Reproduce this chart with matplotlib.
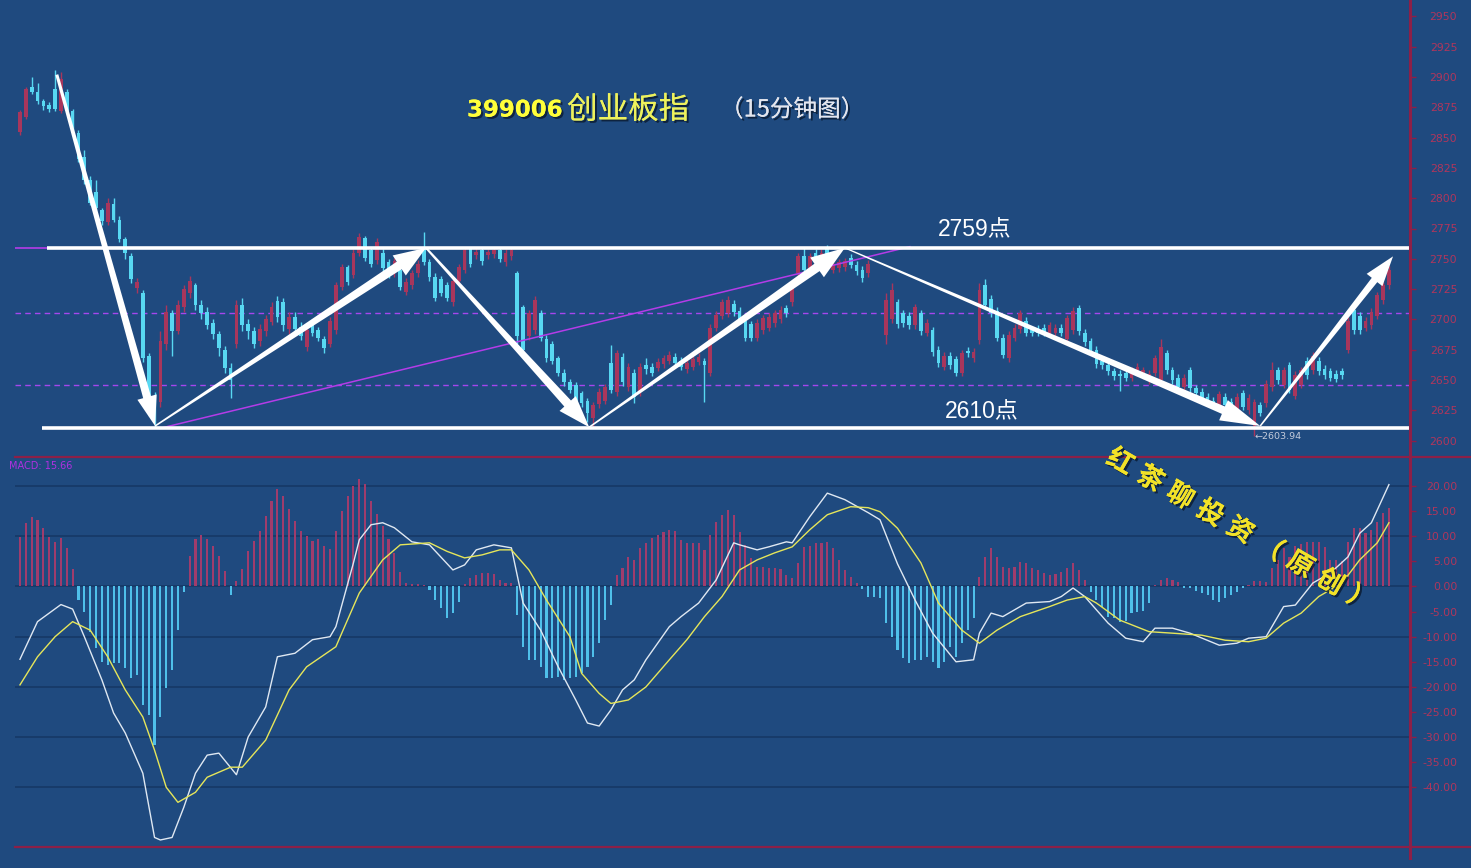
import numpy as np
import matplotlib
matplotlib.use("Agg")
import matplotlib.pyplot as plt
import matplotlib.patheffects as pe
from matplotlib.lines import Line2D
from matplotlib.patches import Polygon

plt.rcParams['font.family'] = ['Noto Sans CJK SC', 'DejaVu Sans']
plt.rcParams['axes.unicode_minus'] = False

nan = float('nan')

# ---------------- data ----------------
opens = [
    2855, 2867, 2892, 2888, 2880, 2877, 2890, 2872, 2888, 2872,
    2854, 2834, 2815, 2805, 2790, 2780, 2795, 2782, 2766, 2752,
    2726, 2722, 2670, 2628, 2632, 2680, 2705, 2690, 2710, 2722,
    2728, 2712, 2706, 2697, 2688, 2675, 2660, 2680, 2712, 2696,
    2690, 2682, 2690, 2698, 2715, 2714, 2692, 2702, 2694, 2677,
    2697, 2691, 2684, 2680, 2691, 2727, 2743, 2737, 2755, 2767,
    2757, 2749, 2755, 2747, 2738, 2741, 2723, 2728, 2738, 2760,
    2747, 2735, 2733, 2728, 2714, 2732, 2741, 2758, 2753, 2757,
    2753, 2754, 2757, 2747, 2752, 2738, 2710, 2686, 2691, 2705,
    2684, 2680, 2668, 2656, 2648, 2646, 2639, 2633, 2619, 2630,
    2633, 2664, 2640, 2669, 2644, 2656, 2640, 2662, 2661, 2660,
    2663, 2666, 2669, 2666, 2659, 2661, 2665, 2666, 2656, 2693,
    2703, 2705, 2713, 2707, 2699, 2696, 2685, 2691, 2693, 2697,
    2700, 2709, 2714, 2738, 2752, 2742, 2755, 2748, 2758, 2741,
    2742, 2743, 2751, 2745, 2741, 2738, nan, nan, 2687, 2700,
    2714, 2705, 2703, 2695, 2705, 2689, 2691, 2675, 2661, 2670,
    2667, 2656, 2674, 2668, 2683, 2728, 2717, 2707, 2685, 2668,
    2685, 2692, 2699, 2691, 2692, 2693, 2689, 2689, 2693, 2684,
    2691, 2709, 2689, 2682, 2675, 2666, 2662, 2657, 2655, 2656,
    2652, 2656, 2654, 2650, 2656, 2650, 2672, 2658, 2652, 2644,
    2658, 2643, 2640, 2636, 2633, 2628, 2636, 2632, 2624, 2639,
    2625, 2612, 2629, 2631, 2644, 2658, 2646, 2662, 2637, 2646,
    2666, 2658, 2666, 2659, 2657, 2655, 2657, 2675, 2708, 2703,
    2693, 2695, 2703, 2716, 2728,
]
closes = [
    2871, 2890, 2888, 2880, 2876, 2874, 2874, 2898, 2872, 2854,
    2832, 2815, 2796, 2792, 2781, 2796, 2782, 2766, 2755, 2733,
    2731, 2668, 2625, 2615, 2682, 2706, 2690, 2712, 2725, 2732,
    2712, 2705, 2695, 2688, 2676, 2660, 2650, 2712, 2695, 2690,
    2680, 2692, 2700, 2710, 2702, 2695, 2702, 2692, 2686, 2691,
    2689, 2685, 2676, 2699, 2728, 2743, 2731, 2755, 2768, 2751,
    2746, 2764, 2742, 2737, 2748, 2727, 2731, 2738, 2746, 2747,
    2735, 2718, 2722, 2718, 2732, 2743, 2757, 2746, 2756, 2748,
    2756, 2757, 2750, 2755, 2757, 2686, 2675, 2705, 2716, 2685,
    2668, 2666, 2656, 2648, 2642, 2632, 2631, 2623, 2629, 2640,
    2644, 2642, 2672, 2648, 2661, 2636, 2661, 2659, 2656, 2665,
    2668, 2671, 2664, 2661, 2664, 2667, 2669, 2662, 2693, 2704,
    2714, 2716, 2706, 2699, 2685, 2685, 2697, 2701, 2702, 2705,
    2708, 2705, 2726, 2752, 2741, 2752, 2748, 2755, 2752, 2746,
    2747, 2748, 2745, 2740, 2734, 2746, nan, nan, 2716, 2724,
    2696, 2697, 2695, 2710, 2690, 2697, 2673, 2664, 2670, 2662,
    2656, 2672, 2672, 2673, 2724, 2712, 2705, 2685, 2671, 2687,
    2693, 2705, 2689, 2689, 2689, 2689, 2695, 2693, 2689, 2701,
    2707, 2690, 2681, 2675, 2663, 2662, 2657, 2653, 2653, 2652,
    2658, 2661, 2658, 2655, 2668, 2677, 2658, 2650, 2644, 2652,
    2643, 2639, 2635, 2633, 2631, 2638, 2629, 2628, 2636, 2628,
    2635, 2632, 2623, 2647, 2658, 2650, 2658, 2642, 2654, 2658,
    2654, 2670, 2657, 2654, 2652, 2651, 2654, 2699, 2691, 2691,
    2699, 2706, 2720, 2728, 2741,
]
highs = [
    2873, 2892, 2900, 2895, 2882, 2879, 2906, 2904, 2890, 2874,
    2856, 2840, 2818, 2815, 2792, 2800, 2800, 2785, 2768, 2755,
    2734, 2724, 2672, 2640, 2690, 2712, 2708, 2716, 2728, 2736,
    2730, 2716, 2710, 2700, 2690, 2678, 2664, 2716, 2718, 2700,
    2694, 2696, 2704, 2714, 2719, 2718, 2706, 2706, 2698, 2695,
    2700, 2694, 2686, 2702, 2731, 2746, 2745, 2758, 2771, 2769,
    2759, 2767, 2758, 2750, 2751, 2744, 2734, 2741, 2749, 2772,
    2750, 2738, 2736, 2731, 2735, 2746, 2760, 2760, 2759, 2759,
    2758, 2760, 2759, 2758, 2759, 2740, 2712, 2708, 2719, 2708,
    2687, 2682, 2670, 2659, 2651, 2648, 2641, 2635, 2632, 2643,
    2647, 2679, 2675, 2672, 2664, 2659, 2664, 2668, 2664, 2668,
    2671, 2674, 2672, 2669, 2667, 2670, 2672, 2668, 2696, 2707,
    2717, 2719, 2716, 2710, 2702, 2699, 2700, 2704, 2705, 2708,
    2711, 2712, 2729, 2755, 2760, 2755, 2758, 2758, 2761, 2749,
    2750, 2751, 2754, 2748, 2744, 2749, nan, nan, 2722, 2730,
    2717, 2708, 2706, 2713, 2708, 2700, 2694, 2678, 2673, 2673,
    2670, 2675, 2677, 2676, 2730, 2733, 2720, 2710, 2688, 2690,
    2696, 2708, 2702, 2694, 2695, 2696, 2698, 2696, 2696, 2704,
    2710, 2712, 2692, 2685, 2678, 2669, 2665, 2660, 2658, 2659,
    2661, 2664, 2661, 2658, 2671, 2684, 2675, 2661, 2655, 2655,
    2661, 2646, 2643, 2639, 2636, 2641, 2639, 2635, 2639, 2642,
    2638, 2634, 2632, 2650, 2665, 2661, 2661, 2665, 2657, 2661,
    2669, 2673, 2669, 2662, 2660, 2658, 2660, 2702, 2711, 2706,
    2702, 2709, 2723, 2731, 2744,
]
lows = [
    2852, 2865, 2886, 2878, 2873, 2871, 2872, 2870, 2870, 2852,
    2830, 2812, 2794, 2788, 2778, 2778, 2780, 2764, 2750, 2730,
    2722, 2665, 2620, 2610, 2628, 2675, 2670, 2688, 2706, 2718,
    2708, 2700, 2692, 2684, 2670, 2656, 2635, 2676, 2690, 2684,
    2676, 2678, 2686, 2695, 2698, 2690, 2688, 2688, 2683, 2674,
    2686, 2682, 2672, 2677, 2688, 2724, 2728, 2734, 2752, 2748,
    2743, 2746, 2739, 2734, 2735, 2724, 2720, 2725, 2735, 2745,
    2732, 2715, 2719, 2715, 2711, 2729, 2738, 2743, 2750, 2745,
    2750, 2751, 2747, 2744, 2749, 2680, 2672, 2683, 2688, 2682,
    2665, 2663, 2653, 2645, 2639, 2629, 2628, 2615, 2610, 2627,
    2630, 2639, 2637, 2645, 2641, 2631, 2637, 2655, 2653, 2657,
    2660, 2663, 2661, 2658, 2656, 2658, 2662, 2632, 2653, 2690,
    2700, 2702, 2703, 2696, 2682, 2682, 2682, 2688, 2690, 2694,
    2697, 2702, 2711, 2735, 2738, 2739, 2745, 2745, 2749, 2738,
    2739, 2740, 2742, 2737, 2731, 2735, nan, nan, 2680, 2697,
    2693, 2694, 2692, 2692, 2687, 2686, 2670, 2661, 2658, 2659,
    2653, 2653, 2669, 2665, 2680, 2709, 2702, 2682, 2668, 2665,
    2682, 2689, 2686, 2686, 2686, 2686, 2686, 2686, 2686, 2681,
    2688, 2687, 2678, 2672, 2660, 2659, 2654, 2650, 2641, 2649,
    2649, 2653, 2651, 2647, 2653, 2647, 2655, 2647, 2641, 2641,
    2640, 2636, 2632, 2630, 2628, 2625, 2626, 2625, 2621, 2625,
    2622, 2604, 2620, 2628, 2641, 2647, 2643, 2639, 2634, 2643,
    2651, 2655, 2654, 2651, 2649, 2648, 2651, 2672, 2688, 2688,
    2690, 2692, 2700, 2713, 2725,
]

# MACD histogram, one bar per candle
hist = [
    9.9, 12.6, 13.8, 13.2, 11.6, 9.9, 8.9, 9.6, 7.7, 3.5,
    -2.6, -5.0, -9.0, -12.3, -15.0, -15.7, -15.3, -15.3, -16.2, -18.3,
    -17.6, -23.6, -25.6, -31.6, -26.0, -20.2, -16.6, -8.7, -1.0, 6.0,
    9.5, 10.2, 9.5, 8.0, 6.0, 3.0, -1.7, 1.0, 3.5, 7.0,
    9.0, 11.0, 14.0, 17.0, 19.5, 18.0, 15.5, 13.0, 11.0, 10.0,
    9.0, 9.5, 8.0, 7.5, 11.0, 15.0, 18.0, 20.0, 21.5, 20.5,
    17.0, 14.5, 12.0, 9.5, 6.7, 2.9, 0.7, 0.4, 0.5, 0.3,
    -0.7, -2.7, -4.3, -6.3, -5.3, -3.0, 0.5, 1.7, 2.3, 2.7,
    2.7, 2.5, 1.3, 0.7, 0.7, -5.7, -12.0, -14.6, -14.6, -16.0,
    -18.3, -18.3, -18.0, -18.6, -18.3, -18.0, -17.3, -16.0, -14.0, -11.3,
    -6.7, -3.7, 2.3, 3.7, 5.9, 5.3, 7.7, 8.7, 9.7, 10.3,
    10.9, 11.3, 11.0, 9.3, 8.7, 8.7, 8.7, 7.3, 10.3, 12.9,
    14.2, 15.2, 14.2, 10.9, 8.3, 5.7, 3.9, 3.8, 3.7, 3.6,
    3.5, 2.3, 1.7, 4.7, 7.9, 8.0, 8.7, 8.7, 8.9, 7.7,
    5.3, 3.3, 1.9, 0.7, -0.5, -2.0, -2.0, -2.3, -7.3, -10.0,
    -12.7, -14.3, -15.3, -14.6, -14.6, -14.0, -15.0, -16.3, -15.0, -12.0,
    -14.0, -11.3, -8.7, -6.3, 1.9, 5.9, 7.7, 5.9, 3.9, 3.7,
    3.9, 4.9, 4.6, 3.7, 3.3, 2.7, 2.3, 2.5, 2.9, 3.7,
    4.7, 3.3, 1.3, -1.0, -2.7, -4.0, -6.0, -6.3, -7.0, -6.8,
    -5.3, -5.0, -4.8, -3.3, 0.3, 1.3, 1.7, 1.2, 0.8, -0.3,
    -0.3, -0.8, -1.3, -1.6, -2.7, -3.0, -2.2, -1.7, -1.0, -0.3,
    0.3, 1.0, 1.0, 0.8, 3.7, 5.3, 7.7, 5.9, 8.0, 8.5,
    8.9, 8.9, 8.9, 7.9, 5.3, 5.3, 5.0, 8.9, 11.7, 11.7,
    10.6, 11.3, 12.9, 14.6, 15.7,
]

# DIF (white) and DEA (yellow), sampled along the bar index
dif_idx = [0, 3, 7, 9, 11, 14, 16, 18, 21, 23, 24, 26, 28, 30, 32, 34, 37, 39, 42, 44,
           47, 50, 53, 54, 57, 58, 60, 62, 64, 67, 70, 74, 76, 78, 81, 84, 86, 89, 92, 95,
           97, 99, 101, 103, 105, 107, 111, 113, 116, 119, 122, 123, 126, 128, 131, 132, 135, 138, 141, 145,
           147, 150, 153, 156, 160, 163, 164, 166, 168, 172, 176, 178, 180, 182, 186, 189, 192, 194, 197, 200,
           205, 208, 210, 213, 216, 218, 221, 224, 227, 229, 231, 234]
dif_val = [-14.5, -7.0, -3.6, -4.5, -10.0, -18.6, -25.2, -29.2, -37.2, -50.0, -50.5, -50.0, -44.0, -37.2, -33.6, -33.2, -37.5, -30.0, -24.0, -14.0,
           -13.3, -10.6, -10.0, -8.0, 4.7, 9.3, 12.3, 12.7, 11.7, 8.9, 8.3, 3.3, 4.3, 7.3, 8.3, 7.7, -3.3, -8.7, -16.0, -22.6,
           -27.2, -27.8, -24.6, -20.6, -18.6, -14.6, -8.0, -6.0, -3.3, 1.3, 8.7, 8.3, 7.3, 7.9, 8.9, 8.7, 13.9, 18.6, 17.3, 14.7,
           13.3, 4.5, -2.7, -9.3, -15.0, -14.6, -9.3, -5.3, -6.0, -3.3, -3.0, -2.0, -0.3, -2.0, -7.3, -10.3, -11.0, -8.3, -8.3, -9.3,
           -11.7, -11.3, -10.3, -10.0, -4.0, -3.7, 0.7, 2.7, 5.9, 10.6, 12.7, 20.3]
dea_idx = [0, 3, 6, 9, 12, 15, 18, 21, 23, 25, 27, 30, 32, 36, 38, 42, 46, 49, 54, 55,
           58, 62, 65, 70, 73, 76, 79, 82, 84, 87, 90, 94, 96, 99, 101, 104, 107, 111, 114, 117,
           120, 123, 126, 129, 132, 135, 138, 142, 145, 147, 150, 154, 157, 161, 164, 167, 171, 176, 179, 182,
           184, 188, 193, 197, 202, 206, 210, 213, 216, 219, 222, 226, 229, 232, 234]
dea_val = [-19.6, -14.0, -10.0, -7.0, -8.7, -14.0, -20.6, -26.0, -32.6, -40.0, -43.0, -41.0, -38.0, -36.0, -36.0, -30.6, -20.6, -16.0, -12.0, -9.3,
           -1.3, 5.3, 8.3, 8.7, 7.0, 5.7, 6.3, 7.3, 7.3, 3.3, -2.7, -10.0, -17.3, -21.3, -23.3, -22.6, -20.0, -14.6, -10.6, -6.0,
           -2.0, 3.3, 5.3, 6.7, 7.9, 11.3, 14.3, 15.9, 15.7, 14.9, 11.6, 4.7, -3.3, -8.7, -11.3, -8.7, -6.0, -4.0, -2.7, -2.0,
           -3.3, -6.7, -9.0, -9.3, -9.7, -10.7, -11.0, -10.3, -7.3, -5.3, -2.0, 0.7, 5.3, 8.7, 12.7]

# swing points joined by the white arrows (bar index, price)
wave_idx = [6.3, 23.1, 69.4, 97.3, 141.0, 212.0, 234.7]
wave_price = [2902, 2612, 2759, 2611, 2759, 2612, 2752]
levels = [2759, 2610]
level_labels = ['2759点', '2610点']
dashed_levels = [2705, 2646]
trend_idx = [23.9, 152.1]
trend_price = [2610, 2760]
low_idx, low_price = 211.1, 2603.94

price_ticks = list(range(2600, 2951, 25))
macd_ticks = list(range(20, -41, -5))
macd_grid = [20, 10, 0, -10, -20, -30, -40]

# ---------------- style ----------------
W, H = 1471, 868
BG = '#1f4a7f'
UP = '#a8365c'
DOWN = '#58d8f2'
H_UP = '#a03c6c'
H_DOWN = '#4fc0ea'
AXRED = '#8c2048'
LABEL = '#b0365c'
PURPLE = '#b43ce8'

fig = plt.figure(figsize=(W / 100, H / 100), dpi=100, facecolor=BG)


def px_axes(x0, y0, x1, y1):
    return fig.add_axes([x0 / W, 1 - y1 / H, (x1 - x0) / W, (y1 - y0) / H])


def fig_line(x0, y0, x1, y1, **kw):
    fig.add_artist(Line2D([x0 / W, x1 / W], [1 - y0 / H, 1 - y1 / H],
                          transform=fig.transFigure, **kw))


def taper_arrow(a, p0, p1, w0, w1, hw, hl):
    # thin tail that widens toward a triangular head, sized in pixels
    t = a.transData
    s, e = t.transform(p0), t.transform(p1)
    u = (e - s) / np.hypot(*(e - s))
    n = np.array([-u[1], u[0]])
    base = e - u * hl
    pts = [s + n * w0 / 2, base + n * w1 / 2, base + n * hw / 2, e,
           base - n * hw / 2, base - n * w1 / 2, s - n * w0 / 2]
    a.add_patch(Polygon(t.inverted().transform(np.array(pts)), closed=True,
                        facecolor='white', edgecolor='none', zorder=5))


ax = px_axes(15, 0, 1410, 457)
mx = px_axes(15, 457, 1410, 847)
for a in (ax, mx):
    a.set_facecolor(BG)
    a.set_xlim(-0.85, 237.6)
    for s in a.spines.values():
        s.set_visible(False)
    a.set_xticks([])
    a.yaxis.tick_right()
    a.tick_params(axis='y', colors=AXRED, length=4, width=1, pad=30,
                  labelsize=7.8, labelcolor=LABEL)

ax.set_ylim(2586.4, 2963.6)
ax.set_yticks(price_ticks)
ax.set_yticklabels([str(t) for t in price_ticks], family='DejaVu Sans', ha='right')
mx.set_ylim(-51.9, 25.8)
mx.set_yticks(macd_ticks)
mx.set_yticklabels(['%.2f' % t for t in macd_ticks], family='DejaVu Sans', ha='right')

# ---------------- candles ----------------
o = np.array(opens, float)
c = np.array(closes, float)
hi = np.array(highs, float)
lo = np.array(lows, float)
x = np.arange(len(o))
ok = ~np.isnan(o)
up = ok & (c >= o)
dn = ok & (c < o)
body_lo = np.minimum(o, c)
body_h = np.maximum(np.abs(c - o), 0.9)
for m, col in ((up, UP), (dn, DOWN)):
    ax.vlines(x[m], lo[m], hi[m], color=col, lw=1, zorder=2)
    ax.bar(x[m], body_h[m], bottom=body_lo[m], width=0.64, color=col, lw=0, zorder=2)

# support / resistance lines
for lv in dashed_levels:
    ax.axhline(lv, color='#a646ee', lw=1.0, ls=(0, (4, 3)), zorder=1)
ax.plot(trend_idx, trend_price, color=PURPLE, lw=1.1, zorder=3)
ax.plot([-0.85, 4.7], [levels[0], levels[0]], color=PURPLE, lw=1.2, zorder=3)
ax.plot([4.7, 237.6], [levels[0], levels[0]], color='white', lw=2.6, zorder=4, solid_capstyle='butt')
ax.plot([3.8, 237.6], [levels[1], levels[1]], color='white', lw=2.6, zorder=4, solid_capstyle='butt')

ax.text(156.9, 2774, level_labels[0], color='white', fontsize=16.5, ha='left', va='center',
        family=['Liberation Sans', 'Noto Sans CJK SC'], zorder=6)
ax.text(158.1, 2623.5, level_labels[1], color='white', fontsize=16.5, ha='left', va='center',
        family=['Liberation Sans', 'Noto Sans CJK SC'], zorder=6)
ax.text(low_idx, low_price - 1, '\u2190%.2f' % low_price, color='#c4ccdc', fontsize=6.8,
        ha='left', va='center', family='DejaVu Sans', zorder=6)

# swing arrows: (tail start width, tail end width, head width, head length) in pixels
arrow_sizes = [(3, 8, 20, 30), (1.5, 9, 24, 32), (2, 9, 22, 32),
               (1.5, 9, 24, 34), (1.2, 8, 22, 40), (1.5, 7, 20, 30)]
for i, (w0, w1, hw, hl) in enumerate(arrow_sizes):
    taper_arrow(ax, (wave_idx[i], wave_price[i]), (wave_idx[i + 1], wave_price[i + 1]),
                w0, w1, hw, hl)

# ---------------- MACD ----------------
for g in macd_grid:
    mx.axhline(g, color='#173a68', lw=1.3, zorder=0)
hv = np.array(hist)
mx.bar(x, hv, width=0.36, color=[H_UP if v > 0 else H_DOWN for v in hv], lw=0, zorder=2)
mx.plot(dif_idx, dif_val, color='#dfe8f2', lw=1.0, zorder=3)
mx.plot(dea_idx, dea_val, color='#e6e65a', lw=1.0, zorder=3)
fig.text(9 / W, 1 - 466 / H, 'MACD: 15.66', color='#b030e0', fontsize=7, ha='left', va='center',
         family='DejaVu Sans')

# frame lines
fig_line(1410, 0, 1410, 858, color=AXRED, lw=2.2)
fig_line(15, 457, W, 457, color=AXRED, lw=1.6)
fig_line(15, 847, W, 847, color=AXRED, lw=1.6)

# ---------------- titles ----------------
shadow = [pe.withSimplePatchShadow(offset=(1.5, -1.5), shadow_rgbFace='#0a1a30', alpha=0.8), pe.Normal()]
ty = 1 - 110 / H
fig.text(467 / W, ty, '399006', color='#ffff3a', fontsize=16.5, fontweight='bold',
         family='DejaVu Sans', ha='left', va='center', path_effects=shadow)
fig.text(567 / W, ty, '创业板指', color='#eef25c', fontsize=22, ha='left', va='center',
         path_effects=shadow)
fig.text(720 / W, ty, '（15分钟图）', color='#e4e6ee', fontsize=17, ha='left', va='center',
         path_effects=shadow)

# watermark, one glyph at a time along a slanted line
mark = '红茶聊投资（原创）'
for k, ch in enumerate(mark):
    fig.text((1120 + 30 * k) / W, 1 - (462 + 17.2 * k) / H, ch, color='#f2e228', fontsize=19,
             fontweight='bold', rotation=-30, ha='center', va='center', path_effects=shadow)

fig.savefig('out.png', dpi=100, facecolor=BG)
